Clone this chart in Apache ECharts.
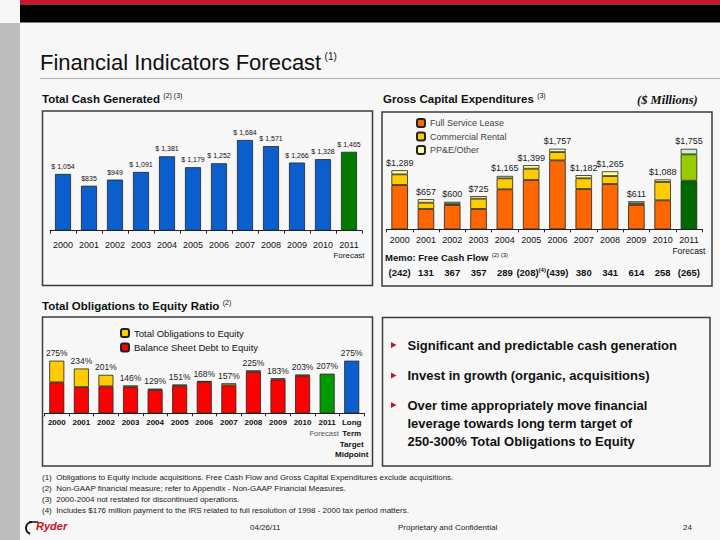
<!DOCTYPE html>
<html>
<head>
<meta charset="utf-8">
<script src="https://cdn.jsdelivr.net/npm/echarts@6/dist/echarts.min.js"></script>
<style>
html,body{margin:0;padding:0;background:#f7f7f7;}
#c{width:720px;height:540px;}
</style>
</head>
<body>
<div id="c"></div>
<script>
// ---------- DATA ----------
const years = ['2000','2001','2002','2003','2004','2005','2006','2007','2008','2009','2010','2011'];
const cashTotal = [1054,835,949,1091,1381,1179,1252,1684,1571,1266,1328,1465];

const capexFSL = [966,443,530,443,872,1075,1504,879,988,530,632,1060];
const capexCR  = [232,137,30,225,240,247,181,233,174,37,400,575];
const capexPPE = [91,77,40,57,53,77,72,70,103,44,56,120];
const capexTotal = [1289,657,600,725,1165,1399,1757,1182,1265,611,1088,1755];
const freeCashFlow = ['(242)','131','367','357','289','(208)','(439)','380','341','614','258','(265)'];

const ratioCats = ['2000','2001','2002','2003','2004','2005','2006','2007','2008','2009','2010','2011','Long Term Target Midpoint'];
const totalObligations = [275,234,201,146,129,151,168,157,225,183,203,207,275];
const balanceSheetDebt = [162,137,141,137,122,143,165,146,216,177,195,null,null];

const footnotes = [
  '(1)  Obligations to Equity include acquisitions. Free Cash Flow and Gross Capital Expenditures exclude acquisitions.',
  '(2)  Non-GAAP financial measure; refer to Appendix - Non-GAAP Financial Measures.',
  '(3)  2000-2004 not restated for discontinued operations.',
  '(4)  Includes $176 million payment to the IRS related to full resolution of 1998 - 2000 tax period matters.'
];
const bullets = [
  ['Significant and predictable cash generation'],
  ['Invest in growth (organic, acquisitions)'],
  ['Over time appropriately move financial','leverage towards long term target of','250-300% Total Obligations to Equity']
];

// ---------- HELPERS ----------
const SANS = "'Liberation Sans', Arial, sans-serif";
function commas(v){ const s = String(v); return s.length > 3 ? s.slice(0, s.length-3) + ',' + s.slice(-3) : s; }

const chart = echarts.init(document.getElementById('c'), null, {renderer: 'svg'});

const lastIdx = years.length - 1;
const fslData = capexFSL.map((v,i) => i === lastIdx ? {value:v, itemStyle:{color:'#006a00'}} : v);
const crData  = capexCR.map((v,i) => i === lastIdx ? {value:v, itemStyle:{color:'#99cc00'}} : v);
const ppeData = capexPPE.map((v,i) => i === lastIdx ? {value:v, itemStyle:{color:'#ccf2cc'}} : v);
const cashData = cashTotal.map((v,i) => i === lastIdx ? {value:v, itemStyle:{color:'#007a00'}} : v);

const redData = balanceSheetDebt.map(v => v == null ? '-' : v);
const yellowData = totalObligations.map((v,i) => {
  if (balanceSheetDebt[i] == null) {
    return {value: v, itemStyle: {color: i === 11 ? '#009a00' : '#0a5fcc'}};
  }
  return v - balanceSheetDebt[i];
});

const boxStyle = {fill: 'none', stroke: '#3c3c3c', lineWidth: 1.5};

const graphics = [
  {type:'rect', z:-10, shape:{x:0,y:0,width:720,height:540}, style:{fill:'#f7f7f7'}},
  {type:'rect', shape:{x:20,y:0,width:700,height:4.5}, style:{fill:'#c8172b'}},
  {type:'rect', shape:{x:20,y:4.5,width:700,height:18}, style:{fill:'#000'}},
  {type:'rect', shape:{x:0,y:23,width:20,height:517}, style:{fill:'#bdbdbd'}},
  {type:'text', x:40, y:62, style:{
    text:'{t|Financial Indicators Forecast} {s|(1)}', verticalAlign:'middle', fill:'#111',
    rich:{t:{fontSize:22, fontFamily:SANS, fill:'#111'}, s:{fontSize:10, fontFamily:SANS, verticalAlign:'top', fill:'#111', padding:[0,0,12,0]}}
  }},
  {type:'line', shape:{x1:40,y1:78.5,x2:720,y2:78.5}, style:{stroke:'#b0b0b0', lineWidth:1}},
  // section titles
  {type:'text', x:42, y:99, style:{
    text:'{t|Total Cash Generated} {s|(2) (3)}', verticalAlign:'middle',
    rich:{t:{fontSize:11.5, fontWeight:'bold', fontFamily:SANS, fill:'#111'}, s:{fontSize:7, fontFamily:SANS, fill:'#111', padding:[0,0,7,0]}}
  }},
  {type:'text', x:383, y:99, style:{
    text:'{t|Gross Capital Expenditures} {s|(3)}', verticalAlign:'middle',
    rich:{t:{fontSize:11.5, fontWeight:'bold', fontFamily:SANS, fill:'#111'}, s:{fontSize:7, fontFamily:SANS, fill:'#111', padding:[0,0,7,0]}}
  }},
  {type:'text', x:637, y:100, style:{
    text:'($ Millions)', verticalAlign:'middle', fontSize:12.5, fontWeight:'bold', fontStyle:'italic',
    fontFamily:"'Liberation Serif', 'Times New Roman', serif", fill:'#111'
  }},
  {type:'text', x:42, y:306, style:{
    text:'{t|Total Obligations to Equity Ratio} {s|(2)}', verticalAlign:'middle',
    rich:{t:{fontSize:11.5, fontWeight:'bold', fontFamily:SANS, fill:'#111'}, s:{fontSize:7, fontFamily:SANS, fill:'#111', padding:[0,0,7,0]}}
  }},
  // boxes
  {type:'rect', shape:{x:42.5,y:111,width:330,height:174.5}, style:boxStyle},
  {type:'rect', shape:{x:382,y:112,width:330,height:174}, style:boxStyle},
  {type:'rect', shape:{x:42.5,y:317,width:330,height:149}, style:boxStyle},
  {type:'rect', shape:{x:382.5,y:317.5,width:327.5,height:148.5}, style:boxStyle},
  // memo title
  {type:'text', x:385, y:257, style:{
    text:'{t|Memo: Free Cash Flow} {s|(2) (3)}', verticalAlign:'middle',
    rich:{t:{fontSize:9.5, fontWeight:'bold', fontFamily:SANS, fill:'#111'}, s:{fontSize:6, fontFamily:SANS, fill:'#111', padding:[0,0,5,0]}}
  }},
  // footer
  {type:'text', x:250, y:527, style:{text:'04/26/11', fontSize:8, fontFamily:SANS, fill:'#222', verticalAlign:'middle'}},
  {type:'text', x:398, y:527, style:{text:'Proprietary and Confidential', fontSize:8, fontFamily:SANS, fill:'#222', verticalAlign:'middle'}},
  {type:'text', x:683, y:527, style:{text:'24', fontSize:8, fontFamily:SANS, fill:'#222', verticalAlign:'middle'}},
  {type:'arc', shape:{cx:32, cy:528, r:6, startAngle:Math.PI*0.6, endAngle:Math.PI*1.5}, style:{stroke:'#111', lineWidth:2, fill:'none'}},
  {type:'line', shape:{x1:29,y1:522,x2:38,y2:522}, style:{stroke:'#111', lineWidth:1.5}},
  {type:'text', x:36, y:525.5, style:{text:'Ryder', fontSize:11, fontWeight:'bold', fontStyle:'italic', fontFamily:SANS, fill:'#cc1020', verticalAlign:'middle'}}
];

footnotes.forEach((t,i) => {
  graphics.push({type:'text', x:42, y:477 + i*11, style:{text:t, fontSize:8, fontFamily:SANS, fill:'#222', verticalAlign:'middle'}});
});

const bulletY = [345, 375.5, 405];
bullets.forEach((lines,i) => {
  const y0 = bulletY[i];
  graphics.push({type:'polygon', shape:{points:[[391,y0-3],[391,y0+3],[396.5,y0]]}, style:{fill:'#c8102e'}});
  lines.forEach((ln,j) => {
    graphics.push({type:'text', x:407.5, y:y0 + j*18.3, style:{text:ln, fontSize:13, fontWeight:'bold', fontFamily:SANS, fill:'#111', verticalAlign:'middle'}});
  });
});

const barBorder = {borderColor:'#222', borderWidth:0.8};
const axisLineStyle = {show:true, lineStyle:{color:'#222', width:1}};
const axisTickStyle = {show:true, length:3, lineStyle:{color:'#222'}};

const option = {
  animation: false,
  backgroundColor: '#f7f7f7',
  graphic: graphics,
  legend: [
    {
      data: ['Full Service Lease','Commercial Rental','PP&E/Other'],
      orient: 'vertical', left: 416, top: 118, itemWidth: 8, itemHeight: 8, itemGap: 3.5,
      selectedMode: false, padding: 0,
      textStyle: {fontSize: 9, fontFamily: SANS, color: '#444'}
    },
    {
      data: ['Total Obligations to Equity','Balance Sheet Debt to Equity'],
      orient: 'vertical', left: 120, top: 328, itemWidth: 8, itemHeight: 8, itemGap: 4.5,
      selectedMode: false, padding: 0,
      textStyle: {fontSize: 9.5, fontFamily: SANS, color: '#111'}
    }
  ],
  grid: [
    {left: 50, top: 123, width: 312, height: 107.7},
    {left: 386.5, top: 137.6, width: 315.6, height: 91.7},
    {left: 44.5, top: 355.9, width: 319.5, height: 57.4}
  ],
  xAxis: [
    {
      gridIndex: 0, type: 'category', data: years,
      axisLine: axisLineStyle, axisTick: axisTickStyle, splitLine:{show:false},
      axisLabel: {
        interval: 0, margin: 9, fontSize: 9, lineHeight: 10.5, fontFamily: SANS, color: '#111',
        formatter: v => v === '2011' ? '2011\n{f|Forecast}' : v,
        rich: {f: {fontSize: 8, fontFamily: SANS, color: '#111', lineHeight: 10.5}}
      }
    },
    {
      gridIndex: 1, type: 'category', data: years,
      axisLine: axisLineStyle, axisTick: axisTickStyle, splitLine:{show:false},
      axisLabel: {
        interval: 0, margin: 5, fontSize: 9, lineHeight: 11, fontFamily: SANS, color: '#111',
        formatter: v => v === '2011' ? '2011\n{f|Forecast}' : v,
        rich: {f: {fontSize: 8.5, fontFamily: SANS, color: '#111', lineHeight: 11}}
      }
    },
    {
      gridIndex: 1, type: 'category', data: freeCashFlow, position: 'bottom', offset: 38,
      axisLine: {show:false}, axisTick: {show:false}, splitLine:{show:false},
      axisLabel: {
        interval: 0, margin: 0, fontSize: 9.5, fontWeight: 'bold', fontFamily: SANS, color: '#111',
        formatter: (v, i) => i === 5 ? v + '{s|(4)}' : v,
        rich: {s: {fontSize: 6, fontFamily: SANS, color: '#111', padding:[0,0,5,0]}}
      }
    },
    {
      gridIndex: 2, type: 'category', data: ratioCats,
      axisLine: axisLineStyle, axisTick: axisTickStyle, splitLine:{show:false},
      axisLabel: {
        interval: 0, margin: 4, fontSize: 8, fontWeight: 'bold', lineHeight: 10.7, fontFamily: SANS, color: '#111',
        formatter: v => v === '2011' ? '2011\n{f|Forecast}' : v.split(' ').join('\n'),
        rich: {f: {fontSize: 7.5, fontWeight: 'normal', fontFamily: SANS, color: '#555', lineHeight: 10.7, padding:[0,6,0,0]}}
      }
    }
  ],
  yAxis: [
    {gridIndex: 0, type: 'value', min: 0, max: 2000, show: false, splitLine:{show:false}},
    {gridIndex: 1, type: 'value', min: 0, max: 2000, show: false, splitLine:{show:false}},
    {gridIndex: 2, type: 'value', min: 0, max: 300, show: false, splitLine:{show:false}}
  ],
  series: [
    {
      name: 'Total Cash Generated', type: 'bar', xAxisIndex: 0, yAxisIndex: 0, data: cashData, barWidth: 16,
      itemStyle: Object.assign({color: '#0a5fcc'}, barBorder),
      label: {
        show: true, position: 'top', distance: 4, fontSize: 7, fontFamily: SANS, color: '#111',
        formatter: p => p.value >= 1000 ? '$ ' + commas(p.value) : '$' + p.value
      }
    },
    {
      name: 'Full Service Lease', type: 'bar', stack: 'capex', xAxisIndex: 1, yAxisIndex: 1, data: fslData, barWidth: 16.5,
      itemStyle: Object.assign({color: '#ff6600'}, barBorder)
    },
    {
      name: 'Commercial Rental', type: 'bar', stack: 'capex', xAxisIndex: 1, yAxisIndex: 1, data: crData, barWidth: 16.5,
      itemStyle: Object.assign({color: '#ffcc00'}, barBorder)
    },
    {
      name: 'PP&E/Other', type: 'bar', stack: 'capex', xAxisIndex: 1, yAxisIndex: 1, data: ppeData, barWidth: 16.5,
      itemStyle: Object.assign({color: '#ffff99'}, barBorder),
      label: {
        show: true, position: 'top', distance: 3, fontSize: 9, fontFamily: SANS, color: '#222',
        formatter: p => '$' + commas(capexTotal[p.dataIndex])
      }
    },
    {
      name: 'Balance Sheet Debt to Equity', type: 'bar', stack: 'ratio', xAxisIndex: 3, yAxisIndex: 2, data: redData, barWidth: 15,
      itemStyle: Object.assign({color: '#ff0000'}, barBorder)
    },
    {
      name: 'Total Obligations to Equity', type: 'bar', stack: 'ratio', xAxisIndex: 3, yAxisIndex: 2, data: yellowData, barWidth: 15,
      itemStyle: Object.assign({color: '#ffcc00'}, barBorder),
      label: {
        show: true, position: 'top', distance: 3, fontSize: 8.5, fontFamily: SANS, color: '#222',
        formatter: p => totalObligations[p.dataIndex] + '%'
      }
    }
  ]
};
chart.setOption(option);
</script>
</body>
</html>
